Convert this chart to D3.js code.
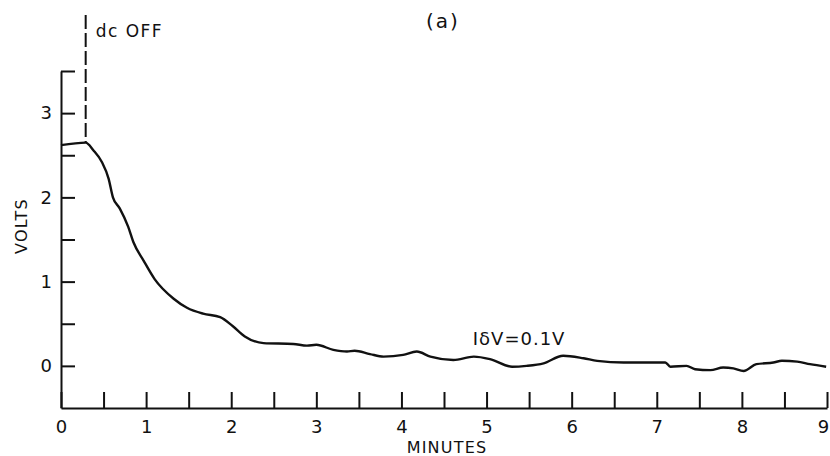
<!DOCTYPE html>
<html>
<head>
<meta charset="utf-8">
<script src="https://cdn.jsdelivr.net/npm/d3@7"></script>
<style>
  body { margin: 0; background: #fff; }
  text { font-family: "DejaVu Sans", sans-serif; fill: #111; }
</style>
</head>
<body>
<div class="chart"></div>
<script>
// data (minutes after start, volts)
var minutes = [0, 0.29, 0.38, 0.48, 0.56, 0.61, 0.69, 0.79, 0.85, 0.97, 1.1, 1.32, 1.48, 1.67, 1.87,
  2.02, 2.16, 2.38, 2.73, 2.89, 3.0, 3.2, 3.36, 3.45, 3.63, 3.79, 4.02, 4.18, 4.34, 4.61, 4.85,
  5.04, 5.3, 5.47, 5.67, 5.9, 6.14, 6.3, 6.61, 6.92, 7.1, 7.16, 7.35, 7.45, 7.63, 7.78, 7.9,
  8.02, 8.17, 8.37, 8.47, 8.65, 8.8, 8.99];
var volts = [2.62, 2.65, 2.56, 2.42, 2.22, 2.0, 1.87, 1.65, 1.47, 1.25, 1.03, 0.8, 0.69, 0.62, 0.58,
  0.47, 0.35, 0.27, 0.26, 0.24, 0.25, 0.19, 0.17, 0.18, 0.14, 0.11, 0.13, 0.17, 0.11, 0.07, 0.11,
  0.08, -0.01, 0.0, 0.03, 0.12, 0.09, 0.06, 0.04, 0.04, 0.04, -0.01, 0.0, -0.04, -0.05, -0.02, -0.03,
  -0.06, 0.02, 0.04, 0.06, 0.05, 0.02, -0.01];

var xTicks = [0, 0.5, 1, 1.5, 2, 2.5, 3, 3.5, 4, 4.5, 5, 5.5, 6, 6.5, 7, 7.5, 8, 8.5, 9];
var yTicks = [0, 0.5, 1, 1.5, 2, 2.5, 3, 3.5];
var dcOffMinute = 0.29;

var svgWidth = 830;
var svgHeight = 456;
var margin = { top: 71, right: 3, bottom: 48, left: 61 };
var width = svgWidth - margin.left - margin.right;
var height = svgHeight - margin.top - margin.bottom;

var svg = d3.select(".chart")
  .append("svg")
  .attr("width", svgWidth)
  .attr("height", svgHeight);

var chart = svg.append("g")
  .attr("transform", "translate(" + margin.left + "," + margin.top + ")");

// scales
var xScale = d3.scaleLinear().domain([0, 9]).range([0, width]);
var yScale = d3.scaleLinear().domain([-0.5, 3.5]).range([height, 0]);

// axes with ticks pointing into the plot
var bottomAxis = d3.axisBottom(xScale)
  .tickValues(xTicks)
  .tickSizeInner(-16)
  .tickSizeOuter(0)
  .tickPadding(12)
  .tickFormat(function(d) { return d % 1 === 0 ? d : ""; });

var leftAxis = d3.axisLeft(yScale)
  .tickValues(yTicks)
  .tickSizeInner(-14)
  .tickSizeOuter(0)
  .tickPadding(9)
  .tickFormat(function(d) { return d % 1 === 0 ? d : ""; });

var xAxisG = chart.append("g")
  .attr("transform", "translate(0," + height + ")")
  .call(bottomAxis);

var yAxisG = chart.append("g").call(leftAxis);

[xAxisG, yAxisG].forEach(function(g) {
  g.selectAll("path, line").attr("stroke", "#111").attr("stroke-width", 2);
  g.selectAll("text")
    .style("font-family", "'DejaVu Sans', sans-serif")
    .style("font-size", "18px")
    .attr("fill", "#111");
});

// keep the last x label inside the page
xAxisG.selectAll(".tick text")
  .filter(function(d) { return d === 9; })
  .attr("dx", "-4");

// trace
var pts = minutes.map(function(m, i) { return [m, volts[i]]; });
var line = d3.line()
  .x(function(d) { return xScale(d[0]); })
  .y(function(d) { return yScale(d[1]); })
  .curve(d3.curveMonotoneX);

chart.append("path")
  .datum(pts)
  .attr("d", line)
  .attr("fill", "none")
  .attr("stroke", "#111")
  .attr("stroke-width", 2.4)
  .attr("stroke-linejoin", "round");

// dc OFF marker
var dcOffVolts = volts[minutes.indexOf(dcOffMinute)];
chart.append("line")
  .attr("x1", xScale(dcOffMinute))
  .attr("x2", xScale(dcOffMinute))
  .attr("y1", 15 - margin.top)
  .attr("y2", yScale(dcOffVolts))
  .attr("stroke", "#111")
  .attr("stroke-width", 2)
  .attr("stroke-dasharray", "14,4");

chart.append("text")
  .attr("x", xScale(dcOffMinute) + 10)
  .attr("y", 37 - margin.top)
  .style("font-size", "17px")
  .style("letter-spacing", "1.5px")
  .text("dc OFF");

// panel label
svg.append("text")
  .attr("x", 443)
  .attr("y", 28)
  .attr("text-anchor", "middle")
  .style("font-size", "20px")
  .style("letter-spacing", "2px")
  .text("(a)");

// resolution note
chart.append("text")
  .attr("x", xScale(4.85) - 1)
  .attr("y", yScale(0.1) - 12)
  .style("font-size", "18px")
  .style("letter-spacing", "1px")
  .text("IδV=0.1V");

// axis titles
svg.append("text")
  .attr("x", 447)
  .attr("y", 453)
  .attr("text-anchor", "middle")
  .style("font-size", "16px")
  .style("letter-spacing", "1.2px")
  .text("MINUTES");

svg.append("text")
  .attr("transform", "translate(27,226) rotate(-90)")
  .attr("text-anchor", "middle")
  .style("font-size", "16px")
  .style("letter-spacing", "1.2px")
  .text("VOLTS");
</script>
</body>
</html>
